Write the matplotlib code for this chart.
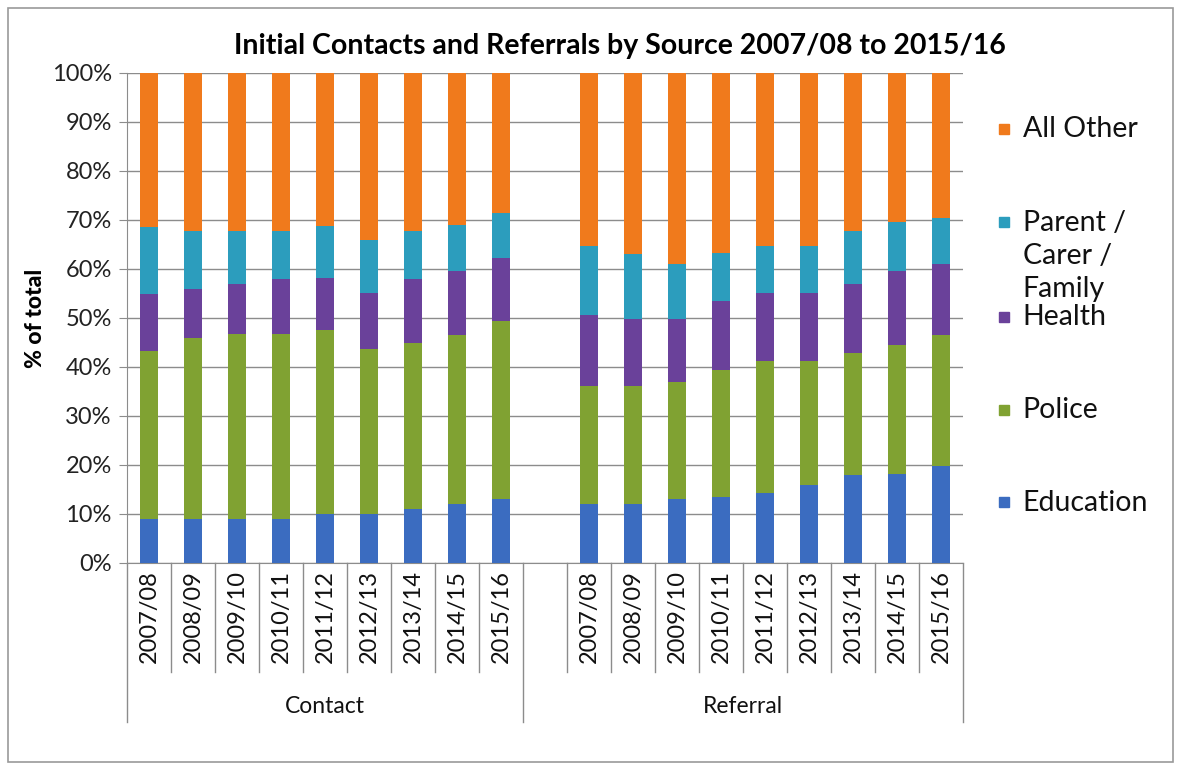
import matplotlib
matplotlib.use("Agg")
import matplotlib.pyplot as plt
from matplotlib.patches import Rectangle
import numpy as np

plt.rcParams['font.family'] = ['Lato', 'DejaVu Sans']

# data (% of total)
years = ['2007/08', '2008/09', '2009/10', '2010/11', '2011/12',
         '2012/13', '2013/14', '2014/15', '2015/16']
groups = ['Contact', 'Referral']
series = ['Education', 'Police', 'Health', 'Parent /\nCarer /\nFamily', 'All Other']
colors = ['#3b6cc0', '#80a232', '#6a419a', '#2c9dbd', '#f07a1c']

contact_education = [9.0, 9.0, 9.0, 9.0, 10.0, 10.0, 11.0, 12.0, 13.0]
contact_police = [34.3, 37.0, 37.7, 37.7, 37.5, 33.7, 33.8, 34.6, 36.3]
contact_health = [11.5, 10.0, 10.3, 11.3, 10.7, 11.3, 13.2, 12.9, 12.9]
contact_parent = [13.8, 11.8, 10.8, 9.7, 10.6, 10.8, 9.8, 9.5, 9.3]
contact_other = [31.4, 32.2, 32.2, 32.3, 31.2, 34.2, 32.2, 31.0, 28.5]

referral_education = [12.0, 12.0, 13.1, 13.5, 14.2, 15.9, 18.0, 18.2, 19.8]
referral_police = [24.1, 24.1, 23.8, 25.9, 27.0, 25.3, 24.8, 26.2, 26.7]
referral_health = [14.4, 13.6, 12.8, 14.1, 13.8, 13.8, 14.2, 15.1, 14.5]
referral_parent = [14.2, 13.3, 11.3, 9.7, 9.7, 9.7, 10.8, 10.0, 9.4]
referral_other = [35.3, 37.0, 39.0, 36.8, 35.3, 35.3, 32.2, 30.5, 29.6]

contact = [contact_education, contact_police, contact_health, contact_parent, contact_other]
referral = [referral_education, referral_police, referral_health, referral_parent, referral_other]

fig = plt.figure(figsize=(11.81, 7.67), dpi=100)
ax = fig.add_axes([0.1075, 0.266, 0.708, 0.639])

n = len(years)
x_contact = np.arange(n)
x_referral = np.arange(n) + n + 1  # one empty slot between the groups
xs = np.concatenate([x_contact, x_referral])

bottom = np.zeros(2 * n)
for vals_c, vals_r, col in zip(contact, referral, colors):
    vals = np.array(vals_c + vals_r)
    ax.bar(xs, vals, 0.41, bottom=bottom, color=col, zorder=3)
    bottom += vals

ax.set_xlim(-0.5, 2 * n + 0.5)
ax.set_ylim(0, 100)
ax.set_yticks(np.arange(0, 101, 10))
ax.set_yticklabels([f'{v}%' for v in range(0, 101, 10)], fontsize=17, color='#222222')
ax.yaxis.grid(True, color='#8c8c8c', linewidth=1.0, zorder=0)
ax.tick_params(axis='y', length=6, color='#8c8c8c', pad=5)
ax.set_ylabel('% of total', fontsize=16.5, fontweight='black', labelpad=4)

ax.set_xticks(xs)
ax.set_xticklabels(years * 2, rotation=90, fontsize=17, color='#111111', va='top')
ax.tick_params(axis='x', length=0, pad=5)

for s in ['top', 'right']:
    ax.spines[s].set_visible(False)
ax.spines['left'].set_color('#8c8c8c')
ax.spines['bottom'].set_color('#8c8c8c')

# category separators below the axis
tr = ax.get_xaxis_transform()
bounds = np.arange(-0.5, 2 * n + 1, 1.0)
long_bounds = [-0.5, n - 0.5, 2 * n + 0.5]
for b in bounds:
    low = -0.325 if b in long_bounds else -0.222
    ax.plot([b, b], [0, low], transform=tr, color='#8c8c8c', lw=1.0, clip_on=False)

ax.text((-0.5 + n - 0.5) / 2, -0.292, groups[0], transform=tr, ha='center', va='center',
        fontsize=16.5, color='#111111')
ax.text((n - 0.5 + 2 * n + 0.5) / 2, -0.292, groups[1], transform=tr, ha='center', va='center',
        fontsize=16.5, color='#111111')

fig.text(0.525, 0.94, 'Initial Contacts and Referrals by Source 2007/08 to 2015/16',
         ha='center', va='center', fontsize=20.5, fontweight='bold')

# legend, top entry = last series
legend_y = [0.833, 0.711, 0.588, 0.467, 0.346]
for lab, col, yy in zip(series[::-1], colors[::-1], legend_y):
    fig.patches.append(Rectangle((0.8455, yy - 0.0075), 0.0085, 0.013, transform=fig.transFigure,
                                 color=col, figure=fig))
    fig.text(0.866, yy + 0.0155, lab, ha='left', va='top', fontsize=20.5, color='#111111',
             linespacing=1.33)

# chart border
fig.patches.append(Rectangle((0.007, 0.007), 0.986, 0.982, transform=fig.transFigure,
                             fill=False, edgecolor='#9a9a9a', lw=1.2, figure=fig))

fig.savefig('out.png', dpi=100)
